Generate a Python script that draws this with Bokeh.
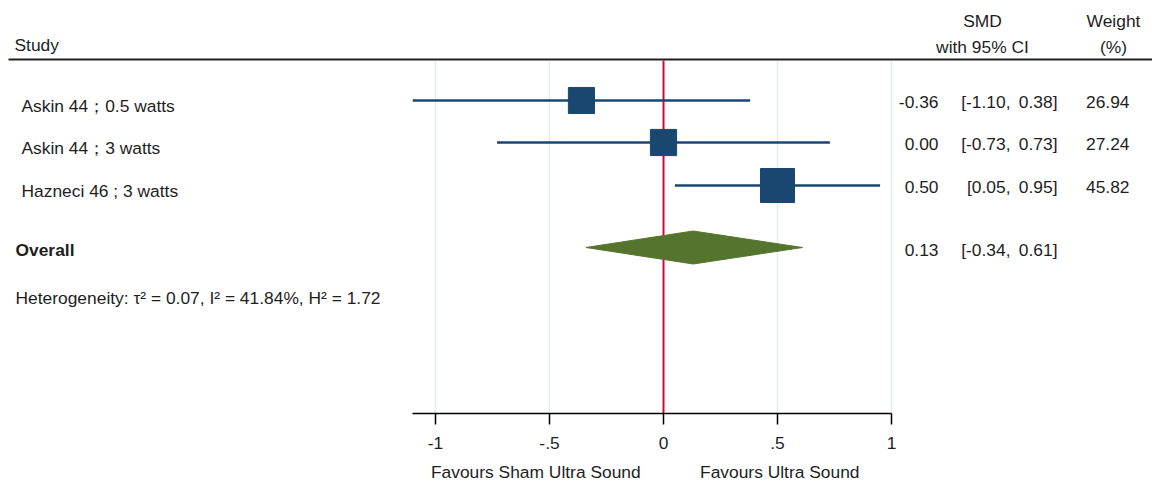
from bokeh.plotting import figure
from bokeh.models import Range1d, LinearAxis, FixedTicker
from bokeh.core.properties import value
from bokeh.embed import file_html
from bokeh.resources import INLINE

# ---- data ----
studies = ["Askin 44；0.5 watts", "Askin 44；3 watts", "Hazneci 46 ; 3 watts"]
smd = [-0.36, 0.00, 0.50]
ci_low = [-1.10, -0.73, 0.05]
ci_high = [0.38, 0.73, 0.95]
weights = [26.94, 27.24, 45.82]

overall_label = "Overall"
overall_smd = 0.13
overall_low = -0.34
overall_high = 0.61

heterogeneity = "Heterogeneity: τ² = 0.07, I² = 41.84%, H² = 1.72"

tick_values = [-1.0, -0.5, 0.0, 0.5, 1.0]
tick_labels = ["-1", "-.5", "0", ".5", "1"]
favours_labels = ["Favours Sham Ultra Sound", "Favours Ultra Sound"]
favours_pos = [-0.56, 0.51]

# ---- layout ----
W, H = 1152, 487
FRAME_H = 413          # plot frame height; y data == pixels from top
ZERO_PX = 663          # pixel column of SMD = 0
UNIT_PX = 228          # pixels per SMD unit
row_y = [100, 142, 185]
overall_y = 247
het_y = 298
rule_y = 59
panel_top = 60
BASE_ADJ = -6          # text baseline correction for the svg renderer

FONT = value("Liberation Sans")
FS = "17.4px"
TXT = "#1e1e1e"
NAVY = "#1a476f"
GREEN = "#55752f"
RED = "#c8102e"
GRID = "#e2ebee"


def px(xp):
    """Horizontal pixel position -> SMD data coordinate."""
    return (xp - ZERO_PX) / UNIT_PX


p = figure(width=W, height=H,
           x_range=Range1d(px(0), px(W)), y_range=Range1d(FRAME_H, 0),
           x_axis_type=None, y_axis_type=None,
           output_backend="svg", toolbar_location=None,
           min_border_left=0, min_border_right=0, min_border_top=0,
           min_border_bottom=H - FRAME_H)
p.outline_line_color = None
p.background_fill_color = "white"
p.border_fill_color = "white"

# x axis with Stata-style tick labels
xaxis = LinearAxis(ticker=FixedTicker(ticks=tick_values),
                   major_label_overrides=dict(zip(tick_values, tick_labels)),
                   bounds=(min(ci_low), max(tick_values)))
xaxis.axis_line_color = "black"
xaxis.axis_line_width = 1.5
xaxis.major_tick_line_color = "black"
xaxis.major_tick_line_width = 1.5
xaxis.major_tick_in = 0
xaxis.major_tick_out = 11
xaxis.minor_tick_line_color = None
xaxis.major_label_standoff = 12
xaxis.major_label_text_font = "Liberation Sans"
xaxis.major_label_text_font_size = FS
xaxis.major_label_text_color = TXT
p.add_layout(xaxis, "below")

# "Favours ..." captions under the axis
faxis = LinearAxis(ticker=FixedTicker(ticks=favours_pos),
                   major_label_overrides=dict(zip(favours_pos, favours_labels)))
faxis.axis_line_color = None
faxis.major_tick_line_color = None
faxis.minor_tick_line_color = None
faxis.major_tick_in = 0
faxis.major_tick_out = 0
faxis.major_label_standoff = 10
faxis.major_label_text_font = "Liberation Sans"
faxis.major_label_text_font_size = FS
faxis.major_label_text_color = TXT
p.add_layout(faxis, "below")

# vertical gridlines and the null line
grid_x = [t for t in tick_values if t != 0]
p.segment(x0=grid_x, y0=[panel_top] * len(grid_x), x1=grid_x, y1=[FRAME_H] * len(grid_x),
          line_color=GRID, line_width=1.5)
p.segment(x0=[0], y0=[panel_top], x1=[0], y1=[FRAME_H], line_color=RED, line_width=2)

# header rule
p.segment(x0=[px(8)], y0=[rule_y], x1=[px(W)], y1=[rule_y], line_color="#222222", line_width=2)

# study confidence intervals and weighted squares
p.segment(x0=ci_low, y0=row_y, x1=ci_high, y1=row_y, line_color=NAVY, line_width=2.5)
wmax = max(weights)
sizes = [34 * (w / wmax) ** 0.5 for w in weights]
p.scatter(x=smd, y=row_y, marker="square", size=sizes,
          fill_color=NAVY, line_color=NAVY, line_width=1)

# overall diamond
half_h = 16.5
p.patch(x=[overall_low, overall_smd, overall_high, overall_smd],
        y=[overall_y, overall_y - half_h, overall_y, overall_y + half_h],
        fill_color=GREEN, line_color=GREEN, line_width=1)


def txt(x, y, s, align="left", style="normal"):
    p.text(x=x, y=[v + BASE_ADJ for v in y], text=s, text_font=FONT, text_font_size=FS,
           text_color=TXT, text_align=align, text_baseline="alphabetic",
           text_font_style=style)


# headers
txt([px(14)], [50], ["Study"])
txt([px(982)], [26], ["SMD"], "center")
txt([px(982)], [52], ["with 95% CI"], "center")
txt([px(1113)], [26], ["Weight"], "center")
txt([px(1113)], [52], ["(%)"], "center")

# study rows
n = len(studies)
txt([px(21)] * n, [y + 11 for y in row_y], studies)
txt([px(938)] * n, [y + 7 for y in row_y], [f"{v:.2f}" for v in smd], "right")
txt([px(1010)] * n, [y + 7 for y in row_y], [f"[{v:.2f}," for v in ci_low], "right")
txt([px(1057)] * n, [y + 7 for y in row_y], [f"{v:.2f}]" for v in ci_high], "right")
txt([px(1129)] * n, [y + 7 for y in row_y], [f"{v:.2f}" for v in weights], "right")

# overall row
txt([px(15)], [overall_y + 8], [overall_label], style="bold")
txt([px(938)], [overall_y + 8], [f"{overall_smd:.2f}"], "right")
txt([px(1010)], [overall_y + 8], [f"[{overall_low:.2f},"], "right")
txt([px(1057)], [overall_y + 8], [f"{overall_high:.2f}]"], "right")

# heterogeneity
txt([px(15)], [het_y + 5], [heterogeneity])

open("out.html", "w").write(file_html(p, INLINE))
